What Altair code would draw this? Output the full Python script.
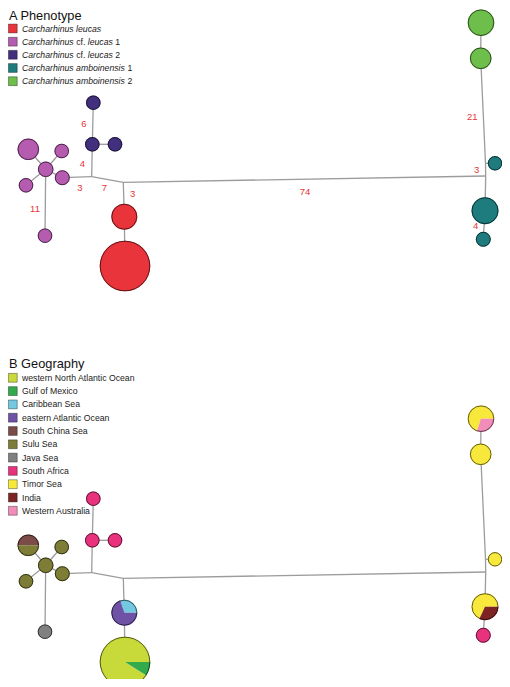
import math
import altair as alt
import pandas as pd

# ---------------- data ----------------
pheno_names = ["Carcharhinus leucas", "Carcharhinus cf. leucas 1", "Carcharhinus cf. leucas 2",
               "Carcharhinus amboinensis 1", "Carcharhinus amboinensis 2"]
pheno_colors = ["#E8343A", "#B65CB0", "#42307F", "#1E7C7E", "#6DBE4B"]
# legend label pieces: (text, italic)
pheno_parts = [
    [("Carcharhinus leucas", True)],
    [("Carcharhinus", True), ("cf.", False), ("leucas", True), ("1", False)],
    [("Carcharhinus", True), ("cf.", False), ("leucas", True), ("2", False)],
    [("Carcharhinus amboinensis", True), ("1", False)],
    [("Carcharhinus amboinensis", True), ("2", False)],
]

geo_names = ["western North Atlantic Ocean", "Gulf of Mexico", "Caribbean Sea", "eastern Atlantic Ocean",
             "South China Sea", "Sulu Sea", "Java Sea", "South Africa", "Timor Sea", "India",
             "Western Australia"]
geo_colors = ["#C8DA3A", "#33AA4B", "#73C8E2", "#6E52A5", "#7A4B47", "#7D7D37", "#808080",
              "#E8327D", "#F8E83C", "#7D2323", "#F28CB9"]

# haplotype network nodes (layout coordinates of panel A, node radius)
node_ids = ["P_top", "P_mid", "P_right", "M_big", "M_tr", "M0", "M_right", "M_left", "M_bottom",
            "R_small", "R_big", "G_top", "G_2", "T_right", "T_big", "T_small"]
node_x = [93.3, 92.3, 115.0, 28.3, 61.7, 45.7, 62.3, 26.0, 45.0, 124.3, 125.0, 481.0, 480.7, 495.0, 485.0, 483.3]
node_y = [102.7, 144.3, 144.3, 149.3, 151.0, 169.3, 177.7, 185.3, 235.7, 216.7, 266.0, 22.7, 58.3, 163.3, 210.7, 239.3]
node_r = [7.3, 7.3, 7.3, 10.8, 7.3, 7.8, 7.5, 7.3, 7.3, 13.0, 25.3, 13.3, 10.8, 7.2, 13.5, 7.5]

node_pheno = ["Carcharhinus cf. leucas 2", "Carcharhinus cf. leucas 2", "Carcharhinus cf. leucas 2",
              "Carcharhinus cf. leucas 1", "Carcharhinus cf. leucas 1", "Carcharhinus cf. leucas 1",
              "Carcharhinus cf. leucas 1", "Carcharhinus cf. leucas 1", "Carcharhinus cf. leucas 1",
              "Carcharhinus leucas", "Carcharhinus leucas",
              "Carcharhinus amboinensis 2", "Carcharhinus amboinensis 2",
              "Carcharhinus amboinensis 1", "Carcharhinus amboinensis 1", "Carcharhinus amboinensis 1"]

# geographic composition of each node (region -> share)
node_geo = {
    "P_top": {"South Africa": 1.0},
    "P_mid": {"South Africa": 1.0},
    "P_right": {"South Africa": 1.0},
    "M_big": {"South China Sea": 0.5, "Sulu Sea": 0.5},
    "M_tr": {"Sulu Sea": 1.0},
    "M0": {"Sulu Sea": 1.0},
    "M_right": {"Sulu Sea": 1.0},
    "M_left": {"Sulu Sea": 1.0},
    "M_bottom": {"Java Sea": 1.0},
    "R_small": {"Caribbean Sea": 0.3, "eastern Atlantic Ocean": 0.7},
    "R_big": {"western North Atlantic Ocean": 0.91, "Gulf of Mexico": 0.09},
    "G_top": {"Timor Sea": 0.70, "Western Australia": 0.30},
    "G_2": {"Timor Sea": 1.0},
    "T_right": {"Timor Sea": 1.0},
    "T_big": {"Timor Sea": 0.68, "India": 0.32},
    "T_small": {"South Africa": 1.0},
}

# junction (median) points of the network
junc_ids = ["J1", "J2", "JR1", "JR2"]
junc_x = [91.7, 123.3, 485.5, 485.7]
junc_y = [176.7, 182.3, 163.3, 176.0]

edges = [("M0", "M_big"), ("M0", "M_tr"), ("M0", "M_left"), ("M0", "M_right"), ("M0", "M_bottom"),
         ("M_right", "J1"), ("J1", "P_mid"), ("P_mid", "P_top"), ("P_mid", "P_right"),
         ("J1", "J2"), ("J2", "R_small"), ("R_small", "R_big"), ("J2", "JR2"),
         ("G_top", "G_2"), ("G_2", "JR1"), ("JR1", "T_right"), ("JR1", "JR2"), ("JR2", "T_big"),
         ("T_big", "T_small")]

# mutation steps labels (panel A)
step_labels = ["6", "4", "11", "3", "7", "3", "74", "21", "3", "4"]
step_x = [84.0, 82.3, 35.0, 80.0, 104.3, 132.7, 305.0, 472.3, 476.7, 475.7]
step_y = [124.3, 164.3, 209.3, 188.3, 188.3, 194.3, 191.7, 117.3, 170.0, 226.0]

PANEL_B_SHIFT = 396.0

# ---------------- build tables ----------------
pos = {}
for i, n in enumerate(node_ids):
    pos[n] = (node_x[i], node_y[i])
for i, n in enumerate(junc_ids):
    pos[n] = (junc_x[i], junc_y[i])

edge_rows = []
for dy in [0.0, PANEL_B_SHIFT]:
    for a, b in edges:
        edge_rows.append({"x": pos[a][0], "y": pos[a][1] + dy, "x2": pos[b][0], "y2": pos[b][1] + dy})
edges_df = pd.DataFrame(edge_rows)

TWO_PI = 2 * math.pi
slice_rows = []
outline_rows = []
for i, n in enumerate(node_ids):
    # panel A: single phenotype per node
    slice_rows.append({"x": node_x[i], "y": node_y[i], "r": node_r[i], "t0": 0.0, "t1": TWO_PI,
                       "cat": node_pheno[i], "color": pheno_colors[pheno_names.index(node_pheno[i])]})
    outline_rows.append({"x": node_x[i], "y": node_y[i], "r": node_r[i] - 0.5, "t0": 0.0, "t1": TWO_PI})
    # panel B: pie of regions, first slice starting at 3 o'clock going counter-clockwise
    comp = node_geo[n]
    cats = [c for c in geo_names if c in comp]
    yb = node_y[i] + PANEL_B_SHIFT
    if len(cats) == 1:
        slice_rows.append({"x": node_x[i], "y": yb, "r": node_r[i], "t0": 0.0, "t1": TWO_PI,
                           "cat": cats[0], "color": geo_colors[geo_names.index(cats[0])]})
    else:
        cum = 0.0
        for c in cats:
            f = comp[c]
            start = math.pi / 2 - (cum + f) * TWO_PI + TWO_PI
            end = math.pi / 2 - cum * TWO_PI + TWO_PI
            slice_rows.append({"x": node_x[i], "y": yb, "r": node_r[i], "t0": start, "t1": end,
                               "cat": c, "color": geo_colors[geo_names.index(c)]})
            cum += f
    outline_rows.append({"x": node_x[i], "y": yb, "r": node_r[i] - 0.5, "t0": 0.0, "t1": TWO_PI})
slices_df = pd.DataFrame(slice_rows)
outline_df = pd.DataFrame(outline_rows)

steps_df = pd.DataFrame({"label": step_labels, "x": step_x, "y": step_y})

# legends
LEG_FS = 8.7
ARIAL = {"C": 722, "a": 556, "r": 333, "c": 500, "h": 556, "i": 222, "n": 556, "u": 556, "s": 500,
         "l": 222, "e": 556, "f": 278, ".": 278, "m": 833, "b": 556, "o": 556, " ": 278, "1": 556, "2": 556}


def tw(s):
    return sum(ARIAL.get(ch, 556) for ch in s) * LEG_FS / 1000.0


LEG_SQ_X = 12.8     # legend swatch centre (kept inside the drawable area)
LEG_TXT_X = 22.0    # legend text start
TITLE_X = 9.0

pheno_row_y = [28.5, 41.7, 54.8, 68.0, 81.2]
geo_row_y = [377.8, 391.1, 404.4, 417.7, 431.0, 444.3, 457.6, 470.9, 484.2, 497.5, 510.8]

sq_rows = []
for i, c in enumerate(pheno_colors):
    sq_rows.append({"x": LEG_SQ_X, "y": pheno_row_y[i], "color": c})
for i, c in enumerate(geo_colors):
    sq_rows.append({"x": LEG_SQ_X, "y": geo_row_y[i], "color": c})
sq_df = pd.DataFrame(sq_rows)

txt_rows = []
for i, parts in enumerate(pheno_parts):
    xx = LEG_TXT_X
    for t, it in parts:
        txt_rows.append({"x": xx, "y": pheno_row_y[i], "text": t, "italic": it})
        xx += tw(t) + tw(" ")
for i, g in enumerate(geo_names):
    txt_rows.append({"x": LEG_TXT_X, "y": geo_row_y[i], "text": g, "italic": False})
txt_df = pd.DataFrame(txt_rows)

titles_df = pd.DataFrame({"text": ["A Phenotype", "B Geography"], "x": [TITLE_X, TITLE_X],
                          "y": [19.8, 367.6]})

# ---------------- chart ----------------
# the page has an 8px margin, so the drawable area is window x 8..502, y 8..679
XS = alt.Scale(domain=[8, 502], nice=False, zero=False)
YS = alt.Scale(domain=[8, 679], nice=False, zero=False, reverse=True)


def xy(xf="x", yf="y"):
    return dict(x=alt.X(f"{xf}:Q", scale=XS, axis=None), y=alt.Y(f"{yf}:Q", scale=YS, axis=None))


edge_layer = alt.Chart(edges_df).mark_rule(color="#9C9C9C", strokeWidth=1.3).encode(
    **xy(), x2="x2:Q", y2="y2:Q")

slice_layer = alt.Chart(slices_df).mark_arc(strokeWidth=0).encode(
    **xy(),
    theta=alt.Theta("t0:Q", scale=None),
    theta2=alt.Theta2("t1:Q"),
    radius=alt.Radius("r:Q", scale=None),
    color=alt.Color("color:N", scale=None),
)

outline_layer = alt.Chart(outline_df).mark_arc(
    fillOpacity=0, stroke="#000000", strokeOpacity=0.6, strokeWidth=1).encode(
    **xy(),
    theta=alt.Theta("t0:Q", scale=None),
    theta2=alt.Theta2("t1:Q"),
    radius=alt.Radius("r:Q", scale=None),
)

steps_layer = alt.Chart(steps_df).mark_text(
    color="#E8343A", fontSize=9.5, font="Liberation Sans", align="center", baseline="middle").encode(
    **xy(), text="label:N")

sq_layer = alt.Chart(sq_df).mark_square(
    size=78, opacity=1, stroke="#000000", strokeOpacity=0.45, strokeWidth=0.8).encode(
    **xy(), color=alt.Color("color:N", scale=None))

txt_it = alt.Chart(txt_df).transform_filter("datum.italic").mark_text(
    fontSize=LEG_FS, font="Liberation Sans", fontStyle="italic", color="#222222",
    align="left", baseline="middle").encode(**xy(), text="text:N")
txt_rm = alt.Chart(txt_df).transform_filter("!datum.italic").mark_text(
    fontSize=LEG_FS, font="Liberation Sans", color="#222222",
    align="left", baseline="middle").encode(**xy(), text="text:N")

title_layer = alt.Chart(titles_df).mark_text(
    fontSize=12.8, font="Liberation Sans", color="#111111", align="left", baseline="alphabetic").encode(
    **xy(), text="text:N")

chart = alt.layer(edge_layer, slice_layer, outline_layer, steps_layer, sq_layer, txt_it, txt_rm,
                  title_layer).properties(
    width=494, height=671, padding=0,
    autosize=alt.AutoSizeParams(type="none"),
    background="white",
).configure_view(stroke=None)

chart.save("out.html", embed_options={"renderer": "svg", "actions": False})
